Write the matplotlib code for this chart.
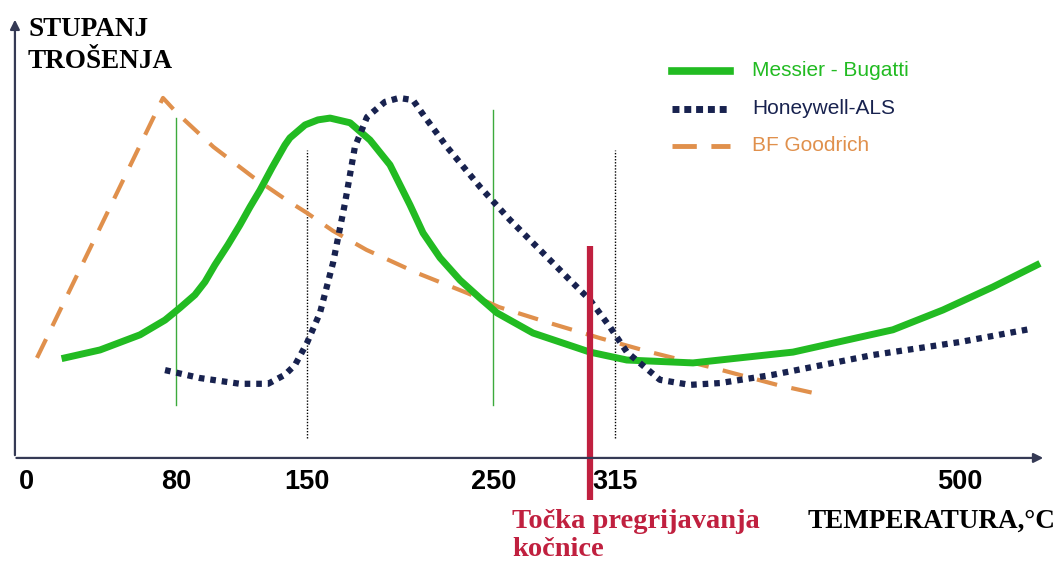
"""Stupanj trošenja kočnica u ovisnosti o temperaturi (shema, tri proizvođača)."""
import matplotlib
matplotlib.use("Agg")
import matplotlib.pyplot as plt

# temperature (°C) and wear level (arbitrary units)
MB_T = [20.5, 39.3, 60.7, 74.1, 82.1, 90.1, 95.5, 100.8, 107.8, 114.2, 119.6, 125.0,
        131.4, 138.3, 141.0, 149.1, 156.0, 162.5, 173.2, 183.9, 194.6, 205.3, 212.3,
        221.4, 232.1, 242.8, 251.9, 271.2, 301.7, 321.5, 356.9, 410.5, 464.0,
        490.8, 517.6, 541.1]
MB_W = [2.78, 3.00, 3.42, 3.83, 4.17, 4.53, 4.89, 5.36, 5.92, 6.47, 6.97, 7.44,
        8.06, 8.69, 8.89, 9.25, 9.39, 9.44, 9.31, 8.83, 8.14, 7.03, 6.25,
        5.56, 4.94, 4.44, 4.03, 3.47, 2.94, 2.72, 2.64, 2.94, 3.56,
        4.11, 4.75, 5.36]

HW_T = [74.1, 92.8, 114.2, 129.3, 138.3, 143.7, 150.1, 157.1, 164.1, 170.5, 175.8,
        182.3, 191.9, 199.5, 206.9, 213.3, 225.1, 242.8, 258.9, 274.9, 291.0, 301.7,
        312.4, 321.5, 339.2, 355.3, 371.4, 399.7, 453.3, 499.9, 537.4]
HW_W = [2.44, 2.22, 2.06, 2.06, 2.31, 2.58, 3.19, 4.03, 5.42, 7.08, 8.64,
        9.47, 9.89, 10.0, 9.94, 9.47, 8.64, 7.53, 6.61, 5.78, 4.94, 4.39,
        3.64, 2.94, 2.17, 2.03, 2.08, 2.31, 2.86, 3.22, 3.58]

BF_T = [5.5, 73.0, 80.5, 100.0, 121.0, 139.0, 150.0, 164.0, 182.0, 209.0, 236.0,
        253.0, 280.0, 307.0, 334.0, 368.0, 402.0, 421.0]
BF_W = [2.78, 10.0, 9.58, 8.64, 7.81, 7.17, 6.81, 6.31, 5.78, 5.14, 4.58,
        4.19, 3.75, 3.33, 2.94, 2.50, 2.03, 1.81]

TICKS = [0, 80, 150, 250, 315, 500]
GREEN_MARKS = [80, 250]
GREEN_TOPS = [9.44, 9.67]
DOTTED_MARKS = [150, 315]
OVERHEAT_T = 302

GREEN = "#22bb22"
NAVY = "#18224f"
ORANGE = "#e0904c"
RED = "#c0203f"
AXIS = "#353a55"

fig = plt.figure(figsize=(10.6, 5.62), dpi=100)
ax = fig.add_axes([0, 0, 1, 1])
ax.set_xlim(-14.3, 553.5)
ax.set_ylim(-2.89, 12.72)
ax.axis("off")

# axes with arrows
ax.annotate("", xy=(-6.3, 12.25), xytext=(-6.3, 0),
            arrowprops=dict(arrowstyle="-|>", color=AXIS, lw=1.6, mutation_scale=14))
ax.annotate("", xy=(546, 0), xytext=(-7.0, 0),
            arrowprops=dict(arrowstyle="-|>", color=AXIS, lw=1.6, mutation_scale=14))

# reference marks
for t, top in zip(GREEN_MARKS, GREEN_TOPS):
    ax.plot([t, t], [1.47, top], color="#3caa3c", lw=1.0)
for t in DOTTED_MARKS:
    ax.plot([t, t], [0.55, 8.56], color="black", lw=1.0, ls=(0, (1, 1.2)))

# curves
ax.plot(BF_T, BF_W, color=ORANGE, lw=3, ls=(0, (5, 3.5)), label="BF Goodrich")
ax.plot(MB_T, MB_W, color=GREEN, lw=5, solid_joinstyle="round", label="Messier - Bugatti")
ax.plot(HW_T, HW_W, color=NAVY, lw=4.5, ls=(0, (0.9, 0.95)), label="Honeywell-ALS")

# overheating point
ax.plot([OVERHEAT_T, OVERHEAT_T], [-1.17, 5.89], color=RED, lw=4.5, solid_capstyle="butt")

# tick labels
for t in TICKS:
    ax.text(t, -0.67, str(t), ha="center", va="center", fontsize=19.5,
            fontweight="bold", family="Liberation Sans")

serif = dict(family="Liberation Serif", fontweight="bold")
fig.text(28 / 1060, 1 - 30 / 562, "STUPANJ", ha="left", va="center", fontsize=19.5, **serif)
fig.text(28 / 1060, 1 - 61 / 562, "TROŠENJA", ha="left", va="center", fontsize=19.5, **serif)
fig.text(1055 / 1060, 1 - 521 / 562, "TEMPERATURA,°C", ha="right", va="center",
         fontsize=19.5, **serif)
fig.text(512 / 1060, 1 - 521 / 562, "Točka pregrijavanja", ha="left", va="center",
         fontsize=20.5, color=RED, **serif)
fig.text(512 / 1060, 1 - 549 / 562, "kočnice", ha="left", va="center",
         fontsize=20.5, color=RED, **serif)

# legend drawn by hand (line sample + coloured text)
LEG = [("Messier - Bugatti", GREEN, dict(lw=5.5, ls="-")),
       ("Honeywell-ALS", NAVY, dict(lw=5, ls=(0, (1, 0.7)))),
       ("BF Goodrich", ORANGE, dict(lw=3.5, ls=(0, (5, 3))))]
for i, (name, col, style) in enumerate(LEG):
    yf = 1 - (71 + 37.5 * i) / 562
    fig.add_artist(plt.Line2D([672 / 1060, 730 / 1060], [yf, yf], color=col,
                              transform=fig.transFigure, **style))
    fig.text(752 / 1060, yf, name, ha="left", va="center", fontsize=15,
             color=col, family="Liberation Sans")

fig.savefig("out.png", dpi=100)
